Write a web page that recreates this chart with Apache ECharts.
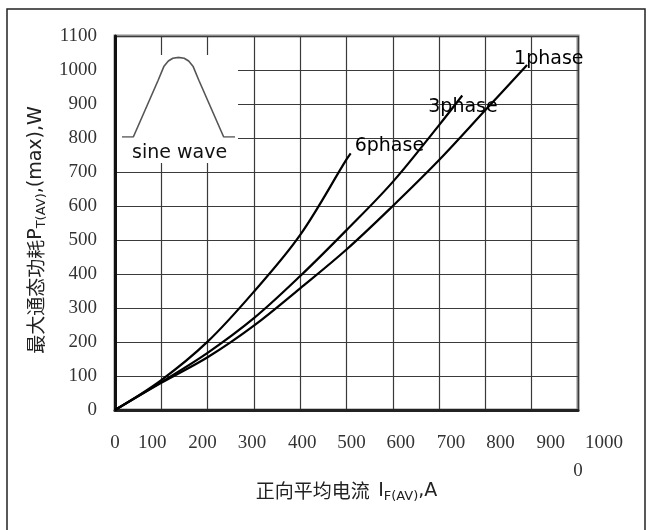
<!DOCTYPE html>
<html>
<head>
<meta charset="utf-8">
<title>最大通态功耗</title>
<script src="https://cdn.jsdelivr.net/npm/echarts@6/dist/echarts.min.js"></script>
<style>
    html, body { margin: 0; padding: 0; background: #fff; }
    #chart { width: 651px; height: 530px; }
</style>
</head>
<body>
<div id="chart"></div>
<script>
// 刻度
const xTicks = [0, 100, 200, 300, 400, 500, 600, 700, 800, 900, 1000];
const yTicks = [0, 100, 200, 300, 400, 500, 600, 700, 800, 900, 1000, 1100];

// 正向平均电流 I (A) / 最大通态功耗 P (W)
const phase1I = [0, 100, 200, 300, 400, 500, 600, 700, 800, 890];
const phase1P = [0, 80, 155, 248, 358, 472, 600, 735, 882, 1015];
const phase3I = [0, 100, 200, 300, 400, 500, 600, 700, 750];
const phase3P = [0, 82, 168, 270, 394, 529, 671, 838, 925];
const phase6I = [0, 100, 200, 300, 400, 500, 509];
const phase6P = [0, 88, 201, 348, 515, 737, 755];

// 左上角小图 sine wave
const sineX = [0, 10, 32, 37, 41, 45, 50, 55, 59, 63, 68, 90, 100];
const sineY = [0, 0, 71, 88, 95, 98.5, 99.5, 98.5, 95, 88, 71, 0, 0];

function pairs(xs, ys) {
    return xs.map(function (x, i) { return [x, ys[i]]; });
}

const numFont = "'Liberation Serif', serif";
const latinFont = "'DejaVu Sans', sans-serif";
const cjkFont = "'Noto Sans CJK SC', sans-serif";
const lastX = xTicks[xTicks.length - 1];

// x轴标签在原图里比网格线略微拉开（左右padding一正一负，只移动文字不加宽）
const xRich = {};
xTicks.forEach(function (v, k) {
    let off = k === 0 ? 0 : Math.round(3.4 * k - 12);
    if (v === lastX) off = 26;
    xRich['t' + k] = {
        fontFamily: numFont,
        fontSize: 19,
        color: '#333',
        lineHeight: 19,
        padding: [0, -off, 0, off]
    };
});
xRich.z = { fontFamily: numFont, fontSize: 19, color: '#333', lineHeight: 36, align: 'center' };

const nameRich = {
    c: { fontFamily: cjkFont, fontSize: 19, color: '#222', lineHeight: 24 },
    l: { fontFamily: latinFont, fontSize: 19, color: '#222', lineHeight: 24 },
    s: { fontFamily: latinFont, fontSize: 13, color: '#222', lineHeight: 13, verticalAlign: 'bottom' }
};

const chart = echarts.init(document.getElementById('chart'));

function phaseSeries(name, data, offset) {
    return {
        name: name,
        type: 'line',
        data: data,
        smooth: 0.35,
        symbol: 'none',
        lineStyle: { color: '#000', width: 2.2 },
        z: 4,
        endLabel: {
            show: true,
            formatter: name,
            distance: 0,
            align: 'left',
            verticalAlign: 'middle',
            offset: offset,
            fontFamily: latinFont,
            fontSize: 19,
            color: '#000'
        }
    };
}

const option = {
    animation: false,
    backgroundColor: '#fff',
    grid: [
        {
            left: 115, right: 73, top: 36, bottom: 120,
            show: true, borderColor: '#8a8a8a', borderWidth: 3
        },
        { left: 122, top: 57, width: 113, height: 80 }
    ],
    xAxis: [
        {
            type: 'value',
            min: xTicks[0],
            max: lastX,
            interval: 100,
            axisLine: { show: true, lineStyle: { color: '#222', width: 3 } },
            axisTick: { show: false },
            splitLine: { show: true, lineStyle: { color: '#3a3a3a', width: 1.2 } },
            axisLabel: {
                margin: 24,
                showMinLabel: true,
                showMaxLabel: false,
                formatter: function (v) {
                    return '{t' + xTicks.indexOf(v) + '|' + v + '}';
                },
                rich: xRich
            },
            name: '{c|正向平均电流  }{l|I}{s|F(AV)}{l|,A}',
            nameLocation: 'middle',
            nameGap: 69,
            nameTextStyle: { rich: nameRich }
        },
        { gridIndex: 1, type: 'value', min: 0, max: 100, show: false },
        {
            // 最后一个标签单独放一根轴上，原图里是 "1000" 下面再一行 "0"
            gridIndex: 0,
            position: 'bottom',
            type: 'value',
            min: xTicks[0],
            max: lastX,
            interval: 100,
            axisLine: { show: false },
            axisTick: { show: false },
            splitLine: { show: false },
            axisLabel: {
                margin: 24,
                showMaxLabel: true,
                formatter: function (v) {
                    if (v !== lastX) return '';
                    return '{t' + xTicks.indexOf(v) + '|' + v + '}\n{z|0}';
                },
                rich: xRich
            }
        }
    ],
    yAxis: [
        {
            type: 'value',
            min: yTicks[0],
            max: yTicks[yTicks.length - 1],
            interval: 100,
            axisLine: { show: true, lineStyle: { color: '#111', width: 3 } },
            axisTick: { show: false },
            splitLine: { show: true, lineStyle: { color: '#3a3a3a', width: 1.2 } },
            axisLabel: {
                margin: 18,
                showMinLabel: true,
                showMaxLabel: true,
                formatter: function (v) { return String(v); },
                fontFamily: numFont,
                fontSize: 19,
                color: '#333'
            },
            name: '{c|最大通态功耗}{l|P}{s|T(AV)}{l|,(max),W}',
            nameLocation: 'middle',
            nameGap: 53,
            nameTextStyle: { rich: nameRich, padding: [0, 14, 0, 0] }
        },
        { gridIndex: 1, type: 'value', min: 0, max: 100, show: false }
    ],
    graphic: [
        {
            type: 'rect',
            shape: { x: 7, y: 9, width: 638, height: 540 },
            style: { fill: 'none', stroke: '#222', lineWidth: 1.5 },
            z: 1
        },
        {
            // 小图的白底，盖住网格线
            type: 'rect',
            shape: { x: 117, y: 55, width: 121, height: 108 },
            style: { fill: '#fff' },
            z: 1
        },
        {
            type: 'text',
            x: 132,
            y: 153,
            style: {
                text: 'sine wave',
                fontFamily: latinFont,
                fontSize: 19,
                fill: '#111',
                verticalAlign: 'middle'
            },
            z: 5
        }
    ],
    series: [
        phaseSeries('1phase', pairs(phase1I, phase1P), [-13, -6]),
        phaseSeries('3phase', pairs(phase3I, phase3P), [-34, 12]),
        phaseSeries('6phase', pairs(phase6I, phase6P), [4, -7]),
        {
            name: 'sine',
            type: 'line',
            xAxisIndex: 1,
            yAxisIndex: 1,
            data: pairs(sineX, sineY),
            symbol: 'none',
            lineStyle: { color: '#555', width: 1.6 },
            z: 6
        }
    ]
};

chart.setOption(option);
</script>
</body>
</html>
